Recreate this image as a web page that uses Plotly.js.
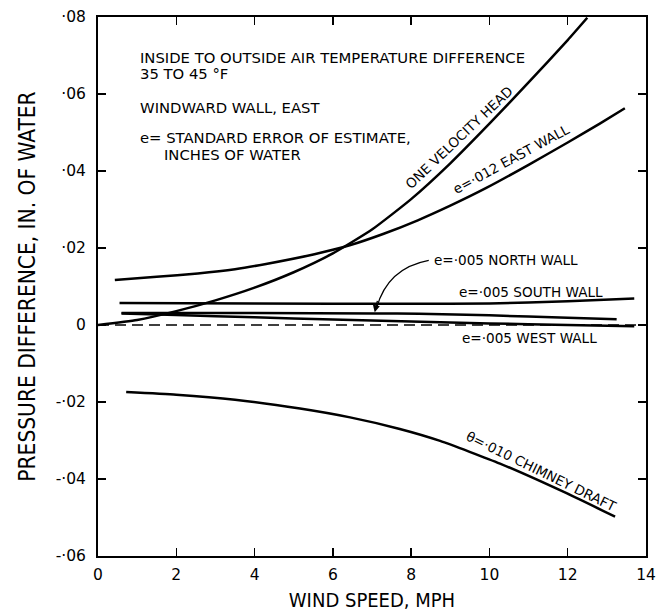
<!DOCTYPE html>
<html>
<head>
<meta charset="utf-8">
<script src="https://cdn.plot.ly/plotly-3.0.1.min.js"></script>
<style>html,body{margin:0;padding:0;background:#fff;}#chart{width:661px;height:612px;}</style>
</head>
<body>
<div id="chart"></div>
<script>
// ---- data ----
const velHeadX = [0, 1, 2, 3, 4, 5, 6, 7, 8, 9, 10, 11, 12, 12.5];
const velHeadY = [0, 0.0013, 0.0036, 0.0064, 0.0097, 0.0137, 0.0186, 0.0248, 0.0327, 0.042, 0.0523, 0.063, 0.074, 0.0798];

const eastX = [0.43, 1.5, 2.55, 3.5, 4.26, 5.53, 6.43, 7.3, 8.17, 9, 9.92, 11, 12, 12.82, 13.46];
const eastY = [0.0117, 0.0125, 0.0134, 0.0145, 0.0158, 0.0184, 0.0207, 0.0237, 0.0272, 0.031, 0.0356, 0.0416, 0.0474, 0.0523, 0.0563];

const southX = [0.55, 4, 8, 10, 12, 13.7];
const southY = [0.0057, 0.0056, 0.0055, 0.0056, 0.0062, 0.0069];

const northX = [0.6, 4, 7.1, 8.2, 10, 12, 13.25];
const northY = [0.0031, 0.0031, 0.003, 0.0029, 0.0025, 0.0019, 0.0015];

const westX = [0.6, 2, 4, 6, 8, 10, 12, 13.7];
const westY = [0.003, 0.0026, 0.002, 0.0014, 0.0009, 0.0004, 0.0, -0.0003];

const zeroX = [0, 14];
const zeroY = [0, 0];

const chimneyX = [0.72, 2, 3.5, 5.16, 6.44, 7.71, 8.74, 10.27, 11.97, 13.21];
const chimneyY = [-0.0174, -0.0181, -0.0194, -0.0217, -0.024, -0.027, -0.0301, -0.036, -0.0437, -0.0498];

const xTickVals = [0, 2, 4, 6, 8, 10, 12, 14];
const xTickText = ['0', '2', '4', '6', '8', '10', '12', '14'];
const yTickVals = [-0.06, -0.04, -0.02, 0, 0.02, 0.04, 0.06, 0.08];
const yTickText = ['-\u00b706', '-\u00b704', '-\u00b702', '0', '\u00b702', '\u00b704', '\u00b706', '\u00b708'];

// ---- chart ----
const FONT = 'DejaVu Sans, sans-serif';
const FONTC = 'DejaVu Sans Condensed, DejaVu Sans, sans-serif';
const solid = {color: '#000', width: 2.5, shape: 'spline', smoothing: 0.5};

const traces = [
  {x: velHeadX, y: velHeadY, name: 'One velocity head', mode: 'lines', line: solid},
  {x: eastX, y: eastY, name: 'East wall', mode: 'lines', line: solid},
  {x: southX, y: southY, name: 'South wall', mode: 'lines', line: solid},
  {x: northX, y: northY, name: 'North wall', mode: 'lines', line: solid},
  {x: westX, y: westY, name: 'West wall', mode: 'lines', line: solid},
  {x: zeroX, y: zeroY, name: 'Zero', mode: 'lines', line: {color: '#000', width: 1.4, dash: '11px,6px'}},
  {x: chimneyX, y: chimneyY, name: 'Chimney draft', mode: 'lines', line: solid}
];

const txt = (s, x, y, size, opts) => Object.assign({
  text: s, x: x, y: y, xref: 'x', yref: 'y', showarrow: false,
  xanchor: 'left', yanchor: 'middle',
  font: {family: FONT, size: size, color: '#000'}
}, opts || {});

const annotations = [
  txt('INSIDE TO OUTSIDE AIR TEMPERATURE DIFFERENCE', 1.02, 0.0696, 14.8),
  txt('35 TO 45 \u00b0F', 1.02, 0.0652, 14.8),
  txt('WINDWARD WALL, EAST', 1.02, 0.0566, 14.8),
  txt('e= STANDARD ERROR OF ESTIMATE,', 1.02, 0.0488, 14.8),
  txt('INCHES OF WATER', 1.63, 0.0442, 14.8),
  txt('ONE VELOCITY HEAD', 9.2, 0.0487, 13.5, {xanchor: 'center', textangle: -43.5}),
  txt('e=\u00b7012 EAST WALL', 10.55, 0.0432, 13.5, {xanchor: 'center', textangle: -28.4}),
  txt('\u03b8=\u00b7010 CHIMNEY DRAFT', 11.32, -0.0378, 13.5, {xanchor: 'center', textangle: 26}),
  txt('e=\u00b7005 NORTH WALL', 8.52, 0.0169, 13.6),
  txt('e=\u00b7005 SOUTH WALL', 9.16, 0.0087, 13.6),
  txt('e=\u00b7005 WEST WALL', 9.25, -0.0034, 13.6),
  {x: 7.07, y: 0.0033, xref: 'x', yref: 'y', text: '', showarrow: true,
   ax: 3, ay: -13, arrowhead: 2, arrowsize: 1.1, arrowwidth: 1.3, arrowcolor: '#000'}
];

const shapes = [
  {type: 'path', xref: 'x', yref: 'y', path: 'M 8.45,0.0168 Q 7.4,0.0148 7.12,0.0045',
   line: {color: '#000', width: 1.3}}
];

const axisCommon = {
  showgrid: false, zeroline: false, showline: true, linecolor: '#000', linewidth: 2,
  mirror: 'ticks', ticks: 'inside', ticklen: 8, tickwidth: 1.5, tickcolor: '#000',
  tickmode: 'array', tickfont: {family: FONT, size: 15.5, color: '#000'}
};

const layout = {
  width: 661, height: 612,
  margin: {l: 98, r: 15, t: 17, b: 56},
  paper_bgcolor: '#fff', plot_bgcolor: '#fff',
  showlegend: false,
  xaxis: Object.assign({}, axisCommon, {
    range: [0, 14], tickvals: xTickVals, ticktext: xTickText, ticklabelstandoff: 3,
    title: {text: 'WIND SPEED, MPH', font: {family: FONTC, size: 20, color: '#000'}, standoff: 10}
  }),
  yaxis: Object.assign({}, axisCommon, {
    range: [-0.06, 0.08], tickvals: yTickVals, ticktext: yTickText, ticklabelstandoff: 7,
    title: {text: 'PRESSURE DIFFERENCE, IN. OF WATER', font: {family: FONTC, size: 22.5, color: '#000'}, standoff: 14}
  }),
  annotations: annotations,
  shapes: shapes
};

Plotly.newPlot('chart', traces, layout, {staticPlot: true, displayModeBar: false});
</script>
</body>
</html>
